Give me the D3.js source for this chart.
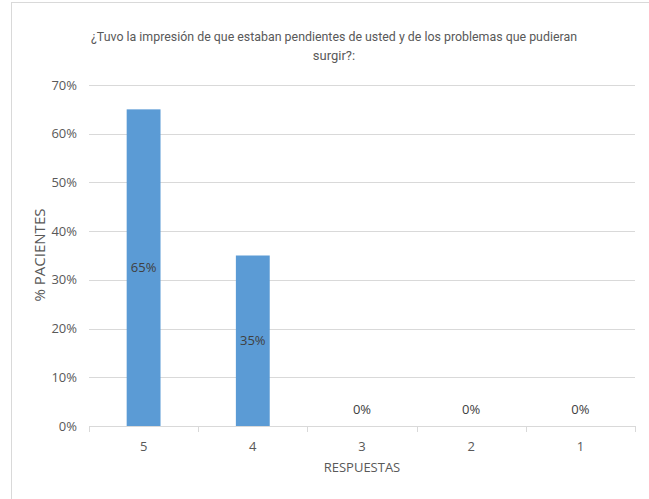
<!DOCTYPE html>
<html>
<head>
<meta charset="utf-8">
<script src="https://cdn.jsdelivr.net/npm/d3@7"></script>
<style>
  body { margin: 0; background: #fff; }
  text { font-family: "Open Sans", sans-serif; fill: #595959; }
</style>
</head>
<body>
<div id="chart"></div>
<script>
const categories = ["5", "4", "3", "2", "1"];
const values = [0.65, 0.35, 0, 0, 0];
const yTicks = [0, 0.1, 0.2, 0.3, 0.4, 0.5, 0.6, 0.7];
const titleLines = ["¿Tuvo la impresión de que estaban pendientes de usted y de los problemas que pudieran", "surgir?:"];

const width = 649, height = 499;
const margin = {top: 85, right: 14, bottom: 73, left: 89};
const w = width - margin.left - margin.right;
const h = height - margin.top - margin.bottom;

const svg = d3.select("#chart").append("svg")
  .attr("width", width)
  .attr("height", height);

// outer chart border (only partly visible)
svg.append("rect")
  .attr("x", 11.5).attr("y", 2.5)
  .attr("width", 700).attr("height", 600)
  .attr("fill", "none").attr("stroke", "#d9d9d9");

const g = svg.append("g")
  .attr("transform", "translate(" + margin.left + "," + margin.top + ")");

const x = d3.scaleBand()
  .domain(categories)
  .range([0, w])
  .paddingInner(0.69)
  .paddingOuter(0.345);

const y = d3.scaleLinear()
  .domain([0, 0.7])
  .range([h, 0]);

// gridlines
g.append("g")
  .selectAll("line")
  .data(yTicks.filter(d => d > 0))
  .join("line")
  .attr("x1", 0).attr("x2", w)
  .attr("y1", d => Math.round(y(d)) + 0.5)
  .attr("y2", d => Math.round(y(d)) + 0.5)
  .attr("stroke", "#d9d9d9");

// y axis labels
g.append("g")
  .selectAll("text")
  .data(yTicks)
  .join("text")
  .attr("x", -12)
  .attr("y", d => y(d))
  .attr("dy", "0.35em")
  .attr("text-anchor", "end")
  .style("font-size", "13px")
  .text(d => d3.format(".0%")(d));

// bars
g.selectAll("rect.bar")
  .data(values)
  .join("rect")
  .attr("class", "bar")
  .attr("x", (d, i) => x(categories[i]))
  .attr("y", d => y(d))
  .attr("width", x.bandwidth())
  .attr("height", d => h - y(d))
  .attr("fill", "#5b9bd5");

// value labels
g.selectAll("text.val")
  .data(values)
  .join("text")
  .attr("class", "val")
  .attr("x", (d, i) => x(categories[i]) + x.bandwidth() / 2)
  .attr("y", d => d > 0 ? (y(d) + h) / 2 : h - 17)
  .attr("dy", "0.35em")
  .attr("text-anchor", "middle")
  .style("font-size", "13px")
  .style("fill", "#404040")
  .text(d => d3.format(".0%")(d));

// x axis
const xAxis = g.append("g")
  .attr("transform", "translate(0," + h + ")");
xAxis.append("line")
  .attr("x1", 0).attr("x2", w)
  .attr("y1", 0.5).attr("y2", 0.5)
  .attr("stroke", "#d9d9d9");
const tickPos = categories.map(c => x(c) - x.step() * x.paddingInner() / 2).concat([w]);
xAxis.selectAll("line.tick")
  .data(tickPos)
  .join("line")
  .attr("class", "tick")
  .attr("x1", d => Math.round(d) + 0.5).attr("x2", d => Math.round(d) + 0.5)
  .attr("y1", 0).attr("y2", 6)
  .attr("stroke", "#d9d9d9");
xAxis.selectAll("text")
  .data(categories)
  .join("text")
  .attr("x", d => x(d) + x.bandwidth() / 2)
  .attr("y", 20)
  .attr("dy", "0.35em")
  .attr("text-anchor", "middle")
  .style("font-size", "13px")
  .text(d => d);

// axis titles
svg.append("text")
  .attr("x", margin.left + w / 2)
  .attr("y", 467)
  .attr("dy", "0.35em")
  .attr("text-anchor", "middle")
  .style("font-size", "13px")
  .text("RESPUESTAS");

svg.append("text")
  .attr("transform", "translate(40,255) rotate(-90)")
  .attr("dy", "0.35em")
  .attr("text-anchor", "middle")
  .style("font-size", "15px")
  .text("% PACIENTES");

// title
svg.append("g")
  .selectAll("text")
  .data(titleLines)
  .join("text")
  .attr("x", 334)
  .attr("y", (d, i) => 36 + i * 19)
  .attr("dy", "0.35em")
  .attr("text-anchor", "middle")
  .attr("textLength", (d, i) => i === 0 ? 486 : null)
  .attr("lengthAdjust", "spacingAndGlyphs")
  .style("font-family", "Roboto, sans-serif")
  .style("font-size", "13px")
  .text(d => d);
</script>
</body>
</html>
